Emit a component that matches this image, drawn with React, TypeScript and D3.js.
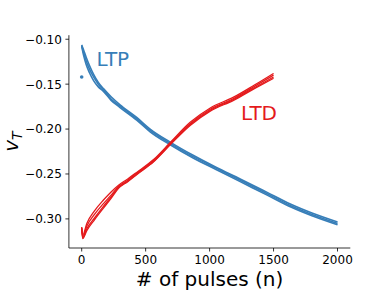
import React from "react";
import * as d3 from "d3";

// LTP (blue) – several cycles, sampled at shared pulse numbers
const ltpN = [0, 15, 35, 60, 93, 130, 170, 230, 300, 430, 535, 692, 875, 1050, 1239, 1450, 1631, 1800, 2000];
const ltpCycle1 = [-0.1063, -0.112, -0.120, -0.129, -0.139, -0.148, -0.155, -0.164, -0.173, -0.187, -0.200, -0.2145, -0.2295, -0.2425, -0.2555, -0.2705, -0.2835, -0.2935, -0.3035];
const ltpCycle2 = [-0.107, -0.115, -0.124, -0.133, -0.142, -0.150, -0.1565, -0.1665, -0.1745, -0.1885, -0.2015, -0.216, -0.231, -0.2435, -0.257, -0.272, -0.285, -0.295, -0.305];
const ltpCycle3 = [-0.108, -0.118, -0.128, -0.137, -0.146, -0.153, -0.158, -0.168, -0.176, -0.190, -0.203, -0.2175, -0.2325, -0.245, -0.2585, -0.2735, -0.2865, -0.2965, -0.3065];
const ltpOutlier = [0, -0.142];

// LTD (red) – several cycles
const ltdN = [0, 8, 40, 100, 170, 230, 288, 360, 432, 562, 692, 848, 1005, 1187, 1350, 1500];
const ltdCycle1 = [-0.309, -0.318, -0.305, -0.291, -0.279, -0.270, -0.2625, -0.2555, -0.248, -0.234, -0.215, -0.1925, -0.1765, -0.1645, -0.151, -0.138];
const ltdCycle2 = [-0.310, -0.320, -0.308, -0.295, -0.283, -0.2735, -0.264, -0.257, -0.249, -0.235, -0.216, -0.194, -0.178, -0.166, -0.1525, -0.140];
const ltdCycle3 = [-0.311, -0.321, -0.311, -0.299, -0.286, -0.2755, -0.265, -0.258, -0.250, -0.236, -0.217, -0.195, -0.179, -0.167, -0.154, -0.142];
const ltdCycle4 = [-0.310, -0.322, -0.313, -0.301, -0.288, -0.277, -0.266, -0.2585, -0.2505, -0.2365, -0.2175, -0.196, -0.180, -0.168, -0.155, -0.1435];

const xTicks = [0, 500, 1000, 1500, 2000];
const yTicks = [-0.10, -0.15, -0.20, -0.25, -0.30];

const BLUE = "#377eb8";
const RED = "#e41a1c";
const FONT = "DejaVu Sans, sans-serif";

export default function App() {
  const W = 390, H = 292;
  const x = d3.scaleLinear().domain([-100, 2100]).range([68.9, 350.3]);
  const y = d3.scaleLinear().domain([-0.3324, -0.0955]).range([248, 35.2]);

  const line = (ns: number[]) =>
    d3.line<number>().x((_, i) => x(ns[i])).y((v) => y(v)).curve(d3.curveMonotoneX);

  const ltpCycles = [ltpCycle1, ltpCycle2, ltpCycle3];
  const ltdCycles = [ltdCycle1, ltdCycle2, ltdCycle3, ltdCycle4];

  const [x0, x1] = x.range();
  const [yb, yt] = y.range();

  return (
    <svg width={W} height={H} style={{ position: "absolute", left: 0, top: 0, background: "#fff" }}>
      <rect width={W} height={H} fill="#fff" />
      {ltpCycles.map((c, i) => (
        <path key={"b" + i} d={line(ltpN)(c) || ""} fill="none" stroke={BLUE} strokeWidth={1.6} />
      ))}
      <circle cx={x(ltpOutlier[0])} cy={y(ltpOutlier[1])} r={1.8} fill={BLUE} />
      {ltdCycles.map((c, i) => (
        <path key={"r" + i} d={line(ltdN)(c) || ""} fill="none" stroke={RED} strokeWidth={1.3} />
      ))}

      {/* spines */}
      <line x1={x0} x2={x0} y1={yb} y2={yt} stroke="#000" strokeWidth={0.8} />
      <line x1={x0} x2={x1} y1={yb} y2={yb} stroke="#000" strokeWidth={0.8} />

      {xTicks.map((t) => (
        <g key={"x" + t}>
          <line x1={x(t)} x2={x(t)} y1={yb} y2={yb + 3.5} stroke="#000" strokeWidth={0.8} />
          <text x={x(t)} y={yb + 16} textAnchor="middle" fontFamily={FONT} fontSize={12} fill="#000">
            {String(t)}
          </text>
        </g>
      ))}
      {yTicks.map((t) => (
        <g key={"y" + t}>
          <line x1={x0 - 3.5} x2={x0} y1={y(t)} y2={y(t)} stroke="#000" strokeWidth={0.8} />
          <text x={x0 - 7} y={y(t) + 4.4} textAnchor="end" fontFamily={FONT} fontSize={12} fill="#000">
            {d3.format(".2f")(t).replace("-", "\u2212")}
          </text>
        </g>
      ))}

      <text x={(x0 + x1) / 2} y={286} textAnchor="middle" fontFamily={FONT} fontSize={20} fill="#000">
        # of pulses (n)
      </text>
      <text transform={`translate(17.5,${(yb + yt) / 2}) rotate(-90)`} textAnchor="middle" fontFamily={FONT} fontSize={20} fill="#000">
        <tspan fontStyle="italic">v</tspan>
        <tspan fontStyle="italic" fontSize={14} dy={4}>T</tspan>
      </text>

      <text x={96.5} y={66} fontFamily={FONT} fontSize={20} fill={BLUE}>LTP</text>
      <text x={241} y={120} fontFamily={FONT} fontSize={20} fill={RED}>LTD</text>
    </svg>
  );
}
